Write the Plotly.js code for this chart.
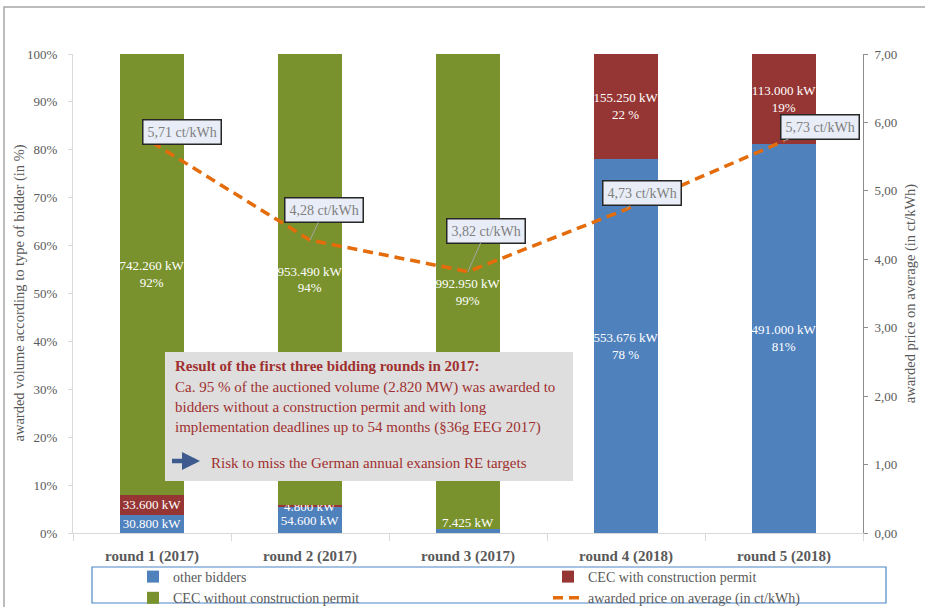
<!DOCTYPE html>
<html>
<head>
<meta charset="utf-8">
<script src="https://cdn.plot.ly/plotly-3.0.1.min.js"></script>
<style>
  html, body { margin: 0; padding: 0; background: #ffffff; }
  #chart { width: 925px; height: 607px; }
</style>
</head>
<body>
<div id="chart"></div>
<script>
// ---------- data ----------
const rounds = ['round 1 (2017)', 'round 2 (2017)', 'round 3 (2017)', 'round 4 (2018)', 'round 5 (2018)'];
const otherKW      = [30800, 54600, 7425, 553676, 491000];
const cecWithKW    = [33600, 4800, 0, 155250, 113000];
const cecWithoutKW = [742260, 953490, 992950, 0, 0];
const pctOther     = ['', '', '', '78 %', '81%'];
const pctWith      = ['', '', '', '22 %', '19%'];
const pctWithout   = ['92%', '94%', '99%', '', ''];
const price        = [5.71, 4.28, 3.82, 4.73, 5.73];

const seriesNames = ['other bidders', 'CEC with construction permit', 'CEC without construction permit', 'awarded price on average (in ct/kWh)'];
const yTitleLeft  = 'awarded volume according to type of bidder (in %)';
const yTitleRight = 'awarded price on average (in ct/kWh)';

const boxLines = [
  'Result of the first three bidding rounds in 2017:',
  'Ca. 95 % of the auctioned volume (2.820 MW) was awarded to',
  'bidders without a construction permit and with long',
  'implementation deadlines up to 54 months (§36g EEG 2017)'
];
const riskLine = 'Risk to miss the German annual exansion RE targets';

// ---------- styles ----------
const FONT = 'Liberation Serif, DejaVu Serif, serif';
const BLUE = '#4f81bd', RED = '#963634', GREEN = '#79922d', ORANGE = '#e46c0a';
const GREY_TXT = '#595959';
const BOX_RED = '#a0302f';

function fmtKW(v) {
  return String(v).replace(/\B(?=(\d{3})+(?!\d))/g, '.') + ' kW';
}
function fmtPrice(p) { return p.toFixed(2).replace('.', ',') + ' ct/kWh'; }

const totals = rounds.map((_, i) => otherKW[i] + cecWithKW[i] + cecWithoutKW[i]);
// segments too thin to hold their label get it drawn just above them
const isThin = (v, i) => v > 0 && v / totals[i] < 0.02 && i === 2;

function labels(vals, pcts) {
  return vals.map((v, i) => (v && !isThin(v, i)) ? fmtKW(v) + (pcts[i] ? '<br>' + pcts[i] : '') : '');
}

const barCommon = {
  type: 'bar', x: rounds, textposition: 'inside', insidetextanchor: 'middle',
  textangle: 0, constraintext: 'none', cliponaxis: false,
  textfont: { family: FONT, size: 13, color: '#ffffff' },
  hoverinfo: 'skip'
};

const traces = [
  Object.assign({}, barCommon, { name: seriesNames[0], y: otherKW, text: labels(otherKW, pctOther), marker: { color: BLUE }, legend: 'legend' }),
  Object.assign({}, barCommon, { name: seriesNames[1], y: cecWithKW, text: labels(cecWithKW, pctWith), marker: { color: RED }, legend: 'legend2' }),
  Object.assign({}, barCommon, { name: seriesNames[2], y: cecWithoutKW, text: labels(cecWithoutKW, pctWithout), marker: { color: GREEN }, legend: 'legend' }),
  { type: 'scatter', mode: 'lines', name: seriesNames[3], x: rounds, y: price, yaxis: 'y2',
    line: { color: ORANGE, width: 3.5, dash: '10px,6px' }, legend: 'legend2', hoverinfo: 'skip' }
];

// price label offsets (px) – layout only
const labelOffsets = [[30, -10], [14, -30], [18, -41], [16, -16], [36, -14]];

const annotations = price.map((p, i) => ({
  x: rounds[i], y: p, xref: 'x', yref: 'y2', text: fmtPrice(p),
  showarrow: true, arrowhead: 0, arrowwidth: 1, arrowcolor: '#a6a6a6',
  ax: labelOffsets[i][0], ay: labelOffsets[i][1],
  bgcolor: '#e8edf7', bordercolor: '#262626', borderwidth: 1.5, borderpad: 4,
  font: { family: FONT, size: 14, color: '#7f7f7f' }
}));

// labels of thin segments
otherKW.forEach((v, i) => {
  if (isThin(v, i)) {
    annotations.push({
      x: rounds[i], y: v / totals[i] * 100, xref: 'x', yref: 'y', yanchor: 'bottom', yshift: -3,
      text: fmtKW(v), showarrow: false, font: { family: FONT, size: 13, color: '#ffffff' }
    });
  }
});

const px2x = px => (px - 73) / 790;
const px2y = py => (533 - py) / 479;

const boxY = [366, 387, 407, 427];
boxLines.forEach((t, i) => {
  annotations.push({
    xref: 'paper', yref: 'paper', x: px2x(173), y: px2y(boxY[i]), xanchor: 'left', yanchor: 'middle',
    text: i === 0 ? '<b>' + t + '</b>' : t, showarrow: false,
    font: { family: FONT, size: 15, color: BOX_RED }
  });
});
annotations.push({
  xref: 'paper', yref: 'paper', x: px2x(209), y: px2y(463), xanchor: 'left', yanchor: 'middle',
  text: riskLine, showarrow: false, font: { family: FONT, size: 15, color: BOX_RED }
});
annotations.push({
  xref: 'paper', yref: 'paper', x: px2x(200), y: px2y(461), text: ' ', showarrow: true,
  axref: 'pixel', ayref: 'pixel', ax: -31, ay: 0, arrowhead: 2, arrowsize: 0.8, arrowwidth: 4.5,
  arrowcolor: '#3c5a8e', standoff: 0
});
// left axis title (placed next to the tick labels as in the original)
annotations.push({
  xref: 'paper', yref: 'paper', x: px2x(19), y: 0.5, xanchor: 'center', yanchor: 'middle',
  textangle: -90, text: yTitleLeft, showarrow: false,
  font: { family: FONT, size: 14.5, color: GREY_TXT }
});

const shapes = [
  // outer frame
  { type: 'rect', xref: 'paper', yref: 'paper', x0: px2x(4), x1: px2x(960), y0: px2y(660), y1: px2y(7),
    line: { color: '#a6a6a6', width: 1.5 }, fillcolor: 'rgba(0,0,0,0)', layer: 'below' },
  // grey text box
  { type: 'rect', xref: 'paper', yref: 'paper', x0: px2x(165), x1: px2x(573), y0: px2y(481), y1: px2y(352),
    line: { width: 0 }, fillcolor: '#dedede', layer: 'above' },
  // legend frame
  { type: 'rect', xref: 'paper', yref: 'paper', x0: px2x(92), x1: px2x(886), y0: px2y(603), y1: px2y(567),
    line: { color: '#4f86c6', width: 1.2 }, fillcolor: 'rgba(0,0,0,0)', layer: 'above' }
];

const legendStyle = {
  orientation: 'v', traceorder: 'normal', bgcolor: 'rgba(0,0,0,0)', borderwidth: 0,
  font: { family: FONT, size: 14, color: GREY_TXT }, yanchor: 'top', xanchor: 'left', y: px2y(561)
};

const layout = {
  width: 925, height: 607,
  margin: { l: 73, r: 62, t: 54, b: 74, autoexpand: false },
  paper_bgcolor: '#ffffff', plot_bgcolor: '#ffffff',
  separators: ',.',
  font: { family: FONT, size: 13, color: GREY_TXT },
  barmode: 'stack', barnorm: 'percent', bargap: 0.6,
  xaxis: {
    type: 'category', showline: true, linecolor: '#d9d9d9', linewidth: 1,
    ticks: 'outside', tickson: 'boundaries', ticklen: 7, tickcolor: '#d9d9d9',
    showgrid: false, zeroline: false, ticklabelstandoff: 9,
    tickfont: { family: FONT, size: 15, color: GREY_TXT, weight: 'bold' }
  },
  yaxis: {
    range: [0, 100], dtick: 10, ticksuffix: '%', showgrid: false, zeroline: false,
    showline: true, linecolor: '#d9d9d9', ticks: 'outside', ticklen: 4, tickcolor: '#d9d9d9',
    ticklabelstandoff: 8,
    tickfont: { family: FONT, size: 13, color: GREY_TXT }
  },
  yaxis2: {
    overlaying: 'y', side: 'right', range: [0, 7], dtick: 1, tickformat: '.2f',
    showgrid: false, zeroline: false, showline: true, linecolor: '#8c8c8c',
    ticks: 'outside', ticklen: 4, tickcolor: '#8c8c8c', ticklabelstandoff: 4,
    tickfont: { family: FONT, size: 13, color: GREY_TXT },
    title: { text: yTitleRight, font: { family: FONT, size: 14.5, color: GREY_TXT }, standoff: 8 }
  },
  legend: Object.assign({}, legendStyle, { x: px2x(133) }),
  legend2: Object.assign({}, legendStyle, { x: px2x(548) }),
  showlegend: true,
  annotations: annotations,
  shapes: shapes
};

Plotly.newPlot('chart', traces, layout, { displayModeBar: false, staticPlot: true });
</script>
</body>
</html>
